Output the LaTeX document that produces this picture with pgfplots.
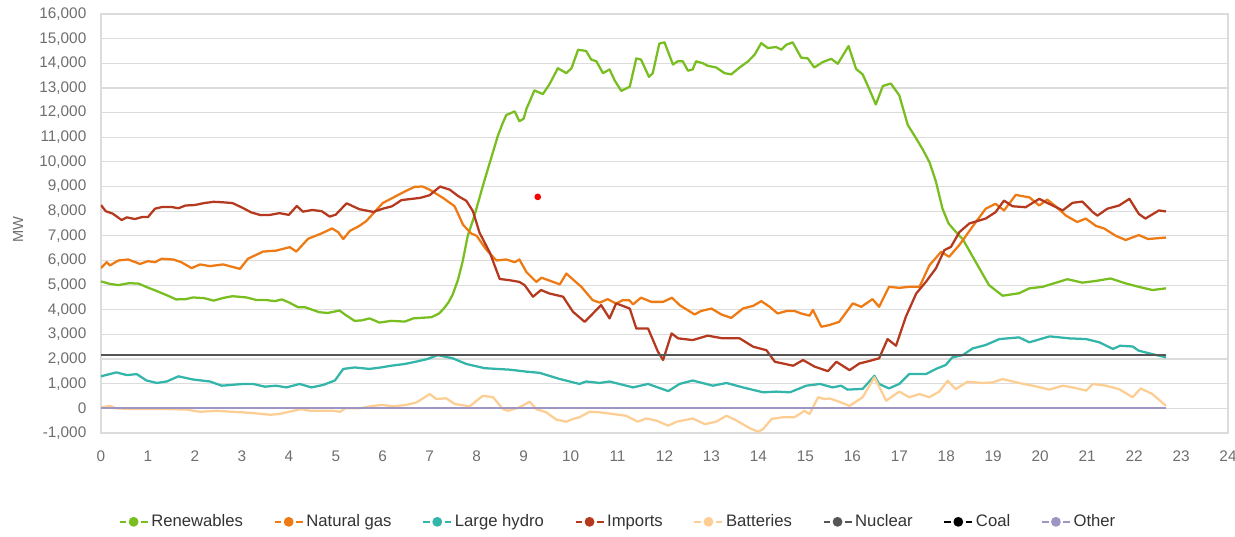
\documentclass[border=0pt]{standalone}
\usepackage{pgfplots}
\pgfplotsset{compat=1.18}
\usepackage{fontspec}
\setmainfont{Liberation Sans}
\definecolor{cRen}{HTML}{78BE20}
\definecolor{cGas}{HTML}{EE7A14}
\definecolor{cHyd}{HTML}{33B5AA}
\definecolor{cImp}{HTML}{B5391E}
\definecolor{cBat}{HTML}{FDCE94}
\definecolor{cNuc}{HTML}{555555}
\definecolor{cCoal}{HTML}{000000}
\definecolor{cOth}{HTML}{9D96C4}
\definecolor{gridc}{HTML}{DCDCDC}
\definecolor{tickc}{HTML}{6E6E6E}
\definecolor{legc}{HTML}{333333}
\begin{document}
\begin{tikzpicture}
\path[use as bounding box] (-75.75pt,-77.25pt) rectangle (850.5pt,324.75pt);
\begin{axis}[
  at={(0pt,0pt)}, anchor=south west,
  scale only axis, width=845.25pt, height=314.25pt,
  xmin=0, xmax=24, ymin=-1000, ymax=16000,
  xtick={0,1,2,3,4,5,6,7,8,9,10,11,12,13,14,15,16,17,18,19,20,21,22,23,24},
  ytick={-1000,0,1000,2000,3000,4000,5000,6000,7000,8000,9000,10000,11000,12000,13000,14000,15000,16000},
  scaled y ticks=false,
  yticklabel style={/pgf/number format/fixed, /pgf/number format/1000 sep={,}},
  ymajorgrids, grid style={draw=gridc, line width=0.9pt},
  axis line style={draw=gridc, line width=0.9pt},
  major tick length=0pt,
  tick label style={font=\fontsize{11.5}{13}\selectfont, text=tickc},
  xticklabel style={yshift=-10pt},
  yticklabel style={xshift=-7.5pt},
  /pgf/number format/1000 sep={,},
  /pgf/number format/assume math mode=true,
  ylabel={MW},
  ylabel style={at={(axis description cs:-0.0736,0.485)}, anchor=center, font=\fontsize{11}{13}\selectfont, text=tickc},
  legend style={at={(axis description cs:0.459,-0.212)}, anchor=center, draw=none, fill=none,
    legend columns=8, font=\fontsize{12.5}{14}\selectfont, text=legc,
    /tikz/every even column/.append style={column sep=21pt}},
  legend image code/.code={
    \draw[#1, line width=1.5pt] (0pt,0pt) -- (5pt,0pt);
    \draw[#1, line width=1.5pt] (16pt,0pt) -- (21pt,0pt);
    \fill[#1] (10.5pt,0pt) circle (2.8pt);
  },
  every axis plot/.append style={line width=1.7pt, line join=round},
]
\addplot[cRen] coordinates {(0,5150) (0.19,5050) (0.37,5000) (0.6,5080) (0.8,5060) (1.0,4900) (1.2,4750) (1.45,4550) (1.6,4420) (1.8,4430) (1.96,4500) (2.2,4470) (2.4,4370) (2.6,4480) (2.8,4550) (3.1,4500) (3.3,4400) (3.5,4400) (3.7,4350) (3.85,4420) (4.0,4300) (4.2,4100) (4.35,4100) (4.5,4000) (4.65,3900) (4.83,3870) (5.08,3970) (5.2,3800) (5.4,3550) (5.55,3570) (5.72,3650) (5.93,3480) (6.18,3550) (6.47,3520) (6.65,3650) (7.04,3700) (7.2,3850) (7.3,4050) (7.4,4300) (7.49,4620) (7.6,5200) (7.7,5950) (7.81,7000) (7.95,7800) (8.14,9080) (8.3,10100) (8.45,11050) (8.55,11550) (8.63,11900) (8.81,12050) (8.91,11650) (9.0,11750) (9.06,12150) (9.23,12900) (9.41,12750) (9.55,13150) (9.73,13800) (9.91,13600) (10.02,13800) (10.16,14550) (10.33,14500) (10.44,14150) (10.55,14080) (10.69,13600) (10.83,13750) (10.94,13300) (11.08,12880) (11.26,13050) (11.4,14200) (11.5,14150) (11.67,13450) (11.75,13600) (11.89,14800) (12.0,14850) (12.18,13950) (12.28,14080) (12.39,14080) (12.5,13700) (12.6,13750) (12.67,14080) (12.82,14000) (12.92,13900) (13.1,13830) (13.28,13600) (13.42,13550) (13.6,13830) (13.78,14080) (13.92,14350) (14.06,14820) (14.2,14620) (14.38,14660) (14.49,14550) (14.59,14750) (14.73,14850) (14.91,14230) (15.05,14200) (15.19,13830) (15.37,14050) (15.55,14180) (15.69,13980) (15.92,14700) (16.08,13770) (16.22,13550) (16.35,13000) (16.5,12330) (16.65,13080) (16.82,13180) (17.0,12700) (17.18,11500) (17.36,10950) (17.5,10500) (17.64,10000) (17.78,9200) (17.92,8100) (18.05,7500) (18.14,7300) (18.28,7000) (18.35,6870) (18.63,5930) (18.91,5000) (19.2,4570) (19.55,4670) (19.77,4870) (20.05,4930) (20.34,5100) (20.58,5240) (20.9,5100) (21.19,5170) (21.5,5270) (21.82,5070) (22.1,4930) (22.39,4800) (22.68,4870)};
\addlegendentry{Renewables}
\addplot[cGas] coordinates {(0,5690) (0.12,5930) (0.19,5800) (0.37,6000) (0.58,6040) (0.83,5860) (1.0,5970) (1.15,5930) (1.29,6070) (1.54,6040) (1.71,5930) (1.93,5690) (2.11,5840) (2.32,5770) (2.6,5840) (2.82,5730) (2.96,5660) (3.13,6070) (3.45,6360) (3.73,6400) (4.02,6540) (4.16,6360) (4.41,6880) (4.7,7100) (4.92,7300) (5.05,7150) (5.16,6870) (5.3,7200) (5.5,7400) (5.65,7600) (6.0,8330) (6.22,8550) (6.47,8800) (6.68,8990) (6.85,9000) (7.0,8870) (7.29,8530) (7.53,8200) (7.71,7450) (7.88,7100) (8.0,7000) (8.2,6450) (8.42,6000) (8.63,6040) (8.81,5930) (8.91,6040) (9.06,5530) (9.27,5130) (9.38,5300) (9.63,5130) (9.77,5030) (9.91,5470) (10.05,5230) (10.23,4930) (10.47,4390) (10.62,4290) (10.79,4430) (10.97,4250) (11.11,4390) (11.25,4390) (11.33,4220) (11.5,4490) (11.72,4320) (11.97,4320) (12.16,4490) (12.32,4190) (12.64,3810) (12.78,3950) (13.0,4050) (13.21,3810) (13.42,3670) (13.67,4050) (13.89,4160) (14.06,4350) (14.24,4120) (14.41,3850) (14.6,3950) (14.77,3950) (14.91,3850) (15.09,3760) (15.16,3990) (15.34,3310) (15.51,3380) (15.72,3510) (16.01,4260) (16.19,4120) (16.43,4430) (16.57,4120) (16.78,4930) (17.0,4890) (17.21,4930) (17.43,4930) (17.64,5800) (17.89,6350) (18.06,6150) (18.28,6630) (18.42,7000) (18.63,7560) (18.84,8100) (19.05,8300) (19.23,8030) (19.48,8660) (19.77,8560) (19.98,8230) (20.15,8470) (20.33,8200) (20.55,7820) (20.79,7560) (20.97,7700) (21.19,7400) (21.36,7300) (21.61,7000) (21.82,6830) (22.1,7030) (22.3,6870) (22.68,6930)};
\addlegendentry{Natural gas}
\addplot[cHyd] coordinates {(0,1300) (0.33,1460) (0.55,1350) (0.76,1390) (0.97,1130) (1.19,1030) (1.4,1090) (1.65,1300) (1.96,1170) (2.32,1090) (2.57,920) (3.03,990) (3.24,990) (3.49,880) (3.73,920) (3.95,850) (4.23,990) (4.48,850) (4.73,950) (4.98,1130) (5.16,1600) (5.4,1660) (5.72,1600) (5.96,1660) (6.18,1730) (6.47,1800) (6.72,1900) (6.95,2000) (7.17,2160) (7.49,2030) (7.78,1800) (8.17,1630) (8.7,1570) (9.06,1490) (9.34,1440) (9.77,1190) (10.19,990) (10.33,1090) (10.62,1030) (10.83,1090) (11.33,850) (11.65,990) (12.08,700) (12.32,990) (12.6,1130) (13.03,920) (13.32,1030) (13.67,850) (14.1,650) (14.38,680) (14.67,650) (15.02,920) (15.31,990) (15.58,850) (15.76,920) (15.9,760) (16.22,790) (16.47,1320) (16.57,990) (16.78,810) (17.0,990) (17.21,1390) (17.57,1390) (17.78,1600) (17.99,1760) (18.13,2070) (18.35,2160) (18.56,2430) (18.84,2570) (19.13,2810) (19.55,2880) (19.77,2680) (20.2,2920) (20.62,2840) (20.98,2810) (21.26,2680) (21.55,2410) (21.7,2540) (21.97,2510) (22.1,2340) (22.39,2200) (22.68,2070)};
\addlegendentry{Large hydro}
\addplot[cImp] coordinates {(0,8250) (0.1,8000) (0.25,7900) (0.44,7640) (0.55,7750) (0.72,7680) (0.87,7760) (1.0,7760) (1.15,8100) (1.3,8170) (1.5,8170) (1.65,8120) (1.8,8230) (2.0,8250) (2.2,8330) (2.4,8380) (2.6,8360) (2.8,8330) (3.0,8150) (3.2,7950) (3.4,7840) (3.6,7850) (3.8,7920) (4.0,7850) (4.17,8210) (4.3,7980) (4.5,8050) (4.7,8000) (4.87,7780) (5.0,7860) (5.23,8320) (5.5,8080) (5.8,7970) (6.0,8100) (6.2,8200) (6.4,8450) (6.8,8540) (7.0,8650) (7.22,9000) (7.43,8870) (7.6,8620) (7.78,8420) (7.92,8000) (8.06,7130) (8.28,6320) (8.49,5250) (8.7,5200) (8.91,5130) (9.02,5000) (9.2,4530) (9.37,4800) (9.55,4660) (9.84,4530) (10.05,3920) (10.3,3510) (10.44,3780) (10.65,4190) (10.83,3650) (10.97,4260) (11.26,4050) (11.4,3240) (11.65,3240) (11.86,2300) (11.97,1960) (12.15,3040) (12.29,2840) (12.6,2770) (12.92,2950) (13.24,2840) (13.6,2840) (13.89,2500) (14.17,2360) (14.35,1890) (14.52,1820) (14.74,1730) (14.95,1960) (15.2,1690) (15.48,1510) (15.66,1890) (15.94,1550) (16.15,1820) (16.36,1920) (16.57,2030) (16.75,2810) (16.93,2540) (17.14,3720) (17.36,4660) (17.57,5140) (17.78,5680) (17.96,6420) (18.1,6550) (18.28,7150) (18.49,7500) (18.84,7700) (19.05,7960) (19.23,8430) (19.41,8200) (19.69,8160) (19.98,8500) (20.19,8300) (20.48,8030) (20.69,8340) (20.9,8390) (21.12,7960) (21.22,7820) (21.43,8100) (21.68,8230) (21.9,8500) (22.1,7890) (22.24,7700) (22.53,8030) (22.68,7990)};
\addlegendentry{Imports}
\addplot[cBat] coordinates {(0,40) (0.19,100) (0.33,0) (0.68,-30) (1.4,-30) (1.82,-50) (2.11,-140) (2.46,-100) (2.82,-140) (3.24,-190) (3.6,-260) (3.8,-230) (4.09,-100) (4.27,-30) (4.45,-100) (4.95,-100) (5.09,-140) (5.2,0) (5.5,0) (5.79,100) (6.0,140) (6.22,80) (6.5,140) (6.72,240) (7.0,580) (7.14,380) (7.35,410) (7.53,180) (7.85,80) (8.13,510) (8.35,450) (8.56,-30) (8.67,-100) (8.91,40) (9.13,270) (9.27,-30) (9.48,-160) (9.7,-460) (9.91,-540) (10.05,-430) (10.19,-360) (10.4,-140) (10.62,-160) (10.9,-230) (11.18,-300) (11.43,-540) (11.61,-410) (11.83,-500) (12.08,-700) (12.26,-540) (12.47,-460) (12.6,-410) (12.86,-640) (13.1,-540) (13.32,-300) (13.54,-500) (13.82,-810) (14.0,-950) (14.1,-840) (14.28,-430) (14.52,-360) (14.77,-360) (14.98,-100) (15.09,-230) (15.27,450) (15.41,380) (15.52,400) (15.72,270) (15.94,100) (16.22,450) (16.47,1260) (16.72,310) (17.0,680) (17.21,450) (17.43,580) (17.64,450) (17.85,680) (18.03,1120) (18.2,780) (18.45,1080) (18.77,1030) (18.98,1050) (19.2,1190) (19.55,1030) (19.91,890) (20.2,760) (20.48,920) (20.69,850) (20.98,720) (21.12,990) (21.4,920) (21.68,780) (21.97,450) (22.14,810) (22.39,580) (22.68,100)};
\addlegendentry{Batteries}
\addplot[cNuc] coordinates {(0,2150) (22.68,2150)};
\addlegendentry{Nuclear}
\addplot[cCoal] coordinates {(0,0) (22.68,0)};
\addlegendentry{Coal}
\addplot[cOth] coordinates {(0,0) (22.68,0)};
\addlegendentry{Other}
\addplot[only marks, mark=*, mark size=1.6pt, color=red, forget plot] coordinates {(9.3,8580)};
\end{axis}
\end{tikzpicture}
\end{document}
